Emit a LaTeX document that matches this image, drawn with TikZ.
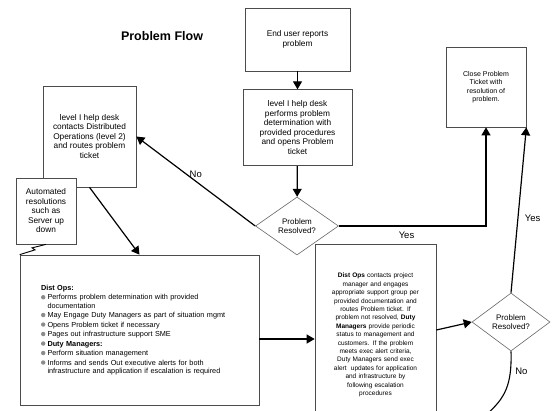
\documentclass[tikz,border=0pt]{standalone}
\usepackage{fontspec}
\setmainfont{Liberation Sans}
\usetikzlibrary{positioning, arrows.meta, shapes.geometric}

\newcommand{\bul}{\makebox[6.5pt][l]{\tikz[baseline=-2.6pt]\fill[black!45] (2.2pt,0pt) circle (2.2pt);}}

\begin{document}
\begin{tikzpicture}[
    x=1pt, y=-1pt,
    box/.style={rectangle, draw=black!70, line width=0.7pt, fill=white,
                align=center, inner sep=2pt, font=\fontsize{8.3}{9.5}\selectfont},
    decision/.style={diamond, draw=black!60, line width=0.6pt, fill=white,
                inner sep=0pt, align=center, font=\fontsize{8}{9.3}\selectfont},
    arrow/.style={-{Triangle[length=8pt, width=9pt]}, line width=1.2pt},
    wire/.style={line width=1.1pt},
    answer/.style={font=\fontsize{9.5}{11}\selectfont},
    heading/.style={font=\bfseries\fontsize{12.5}{14}\selectfont}
]
  \useasboundingbox (0,0) rectangle (553,410);

  \node[heading] (title) at (162,36) {Problem Flow};

  % --- Help desk column ---
  \node[box, minimum width=105pt, minimum height=63pt] (enduser) at (297.5,39.5)
    {End user reports\\problem};
  \node[box, minimum width=109pt, minimum height=76pt, below=18pt of enduser] (helpdesk)
    {level I help desk\\performs problem\\determination with\\provided procedures\\and opens Problem\\ticket};
  \node[decision, minimum width=83pt, minimum height=58pt] (dec1) at (297,226) {Problem\\Resolved?};

  \draw[arrow] (enduser) -- (helpdesk);
  \draw[arrow] (helpdesk) -- (dec1);

  % --- Level 2 (left) ---
  \node[box, minimum width=93pt, minimum height=101pt] (routes) at (89.5,136.5)
    {level I help desk\\contacts Distributed\\Operations (level 2)\\and routes problem\\ticket};
  \node[box, minimum width=60pt, minimum height=66pt] (auto) at (46,211)
    {Automated\\resolutions\\such as\\Server up\\down};
  \node[box, text width=197pt, inner xsep=21pt, minimum height=150pt, align=left,
        font=\fontsize{7.3}{8.3}\selectfont] (distops) at (139.5,330)
    {\textbf{Dist Ops:}\\[1.2pt]
     \bul Performs problem determination with provided\\
     \hspace*{6.5pt}documentation\\[1.2pt]
     \bul May Engage Duty Managers as part of situation mgmt\\[1.2pt]
     \bul Opens Problem ticket if necessary\\[1.2pt]
     \bul Pages out infrastructure support SME\\[1.2pt]
     \bul \textbf{Duty Managers:}\\[1.2pt]
     \bul Perform situation management\\[1.2pt]
     \bul Informs and sends Out executive alerts for both\\
     \hspace*{6.5pt}infrastructure and application if escalation is required};

  \draw[arrow] (dec1.west) -- node[answer, pos=0.5, above] (no1) {No} (routes.east);
  \draw[arrow] (routes.south) -- (distops.north);
  \draw[wire, line width=0.9pt] (auto.south) -- ++(-14,3.5) -- ++(3,2) -- (distops.north west);

  % --- Escalation (right) ---
  \node[box, text width=117pt, minimum height=182pt, font=\fontsize{6.5}{8.4}\selectfont]
    (escalate) at (375.5,335)
    {\textbf{Dist Ops} contacts project\\
     manager and engages\\
     appropriate support group per\\
     provided documentation and\\
     routes Problem ticket. If\\
     problem not resolved, \textbf{Duty}\\
     \textbf{Managers} provide periodic\\
     status to management and\\
     customers. If the problem\\
     meets exec alert criteria,\\
     Duty Managers send exec\\
     alert~~updates for application\\
     and infrastructure by\\
     following escalation\\
     procedures};
  \node[decision, minimum width=78pt, minimum height=58pt] (dec2) at (511,322) {Problem\\Resolved?};
  \node[box, minimum width=80pt, minimum height=80pt, font=\fontsize{7}{8.5}\selectfont]
    (close) at (486,87) {Close Problem\\Ticket with\\resolution of\\problem.};
  \coordinate (noend) at (487,414);

  \draw[arrow] (distops.east |- 0,339) -- (escalate.west |- 0,339);
  \draw[arrow] (escalate.east |- 0,330) -- (dec2.west);
  \draw[arrow] (dec1.east) -| node[answer, pos=0.23, below=2pt] (yes1) {Yes} (close.south);
  \draw[arrow] (dec2.north) -- node[answer, pos=0.45, right=3pt] (yes2) {Yes} (close.south east);
  \draw[wire] (dec2.south) .. controls (512,385) and (505,398) .. node[answer, pos=0.22, right=1pt] (no2) {No} (noend);

\end{tikzpicture}
\end{document}
